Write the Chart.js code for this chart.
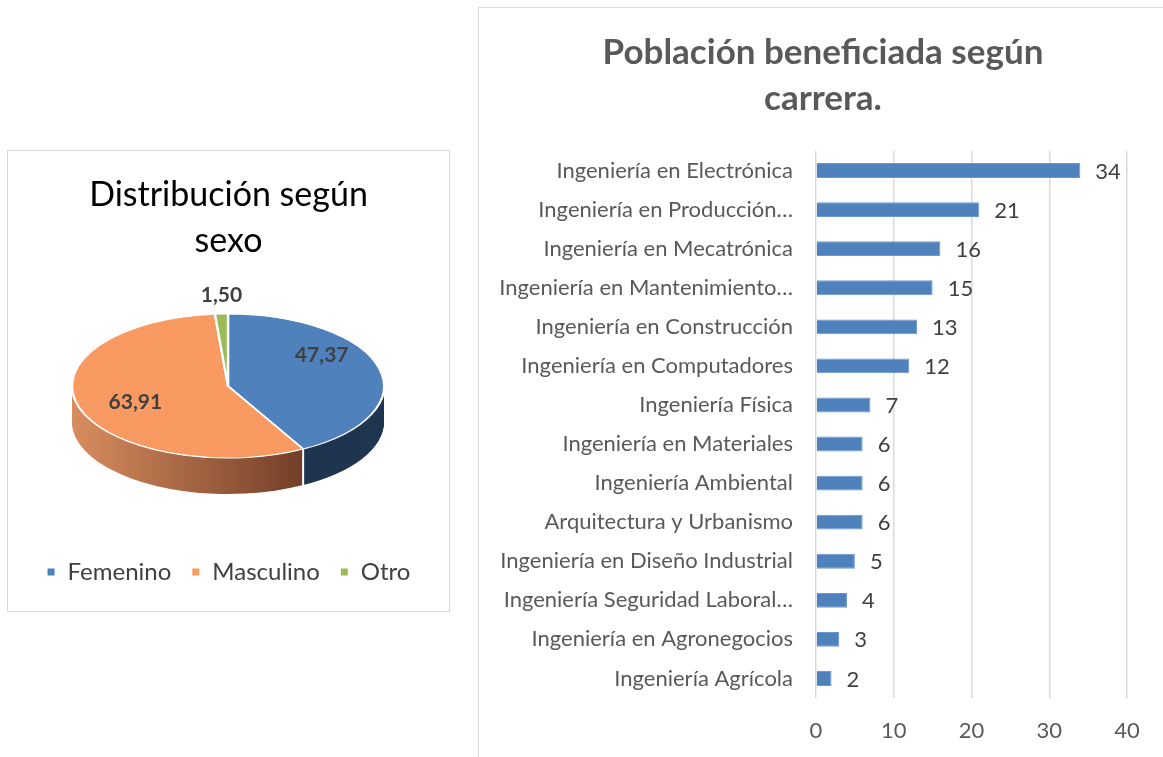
<!DOCTYPE html>
<html>
<head>
<meta charset="utf-8">
<script src="https://cdn.jsdelivr.net/npm/chart.js@4.4.1/dist/chart.umd.min.js"></script>
<style>
  html, body { margin: 0; padding: 0; background: #fff; }
  body { width: 1163px; height: 757px; position: relative; overflow: hidden; }
  #pieBox { position: absolute; left: 7px; top: 150px; width: 441px; height: 460px; border: 1px solid #d9d9d9; }
  #barBox { position: absolute; left: 478px; top: 7px; width: 685px; height: 750px; border-left: 1px solid #d9d9d9; border-top: 1px solid #d9d9d9; }
  canvas { display: block; }
</style>
</head>
<body>
<div id="pieBox"><canvas id="pie" width="441" height="460"></canvas></div>
<div id="barBox"><canvas id="bar" width="684" height="749"></canvas></div>
<script>
// data
const sexLabels = ["Femenino", "Masculino", "Otro"];
const sexValues = [47.37, 63.91, 1.5];

const careerLabels = [
  "Ingeniería en Electrónica",
  "Ingeniería en Producción…",
  "Ingeniería en Mecatrónica",
  "Ingeniería en Mantenimiento…",
  "Ingeniería en Construcción",
  "Ingeniería en Computadores",
  "Ingeniería Física",
  "Ingeniería en Materiales",
  "Ingeniería Ambiental",
  "Arquitectura y Urbanismo",
  "Ingeniería en Diseño Industrial",
  "Ingeniería Seguridad Laboral…",
  "Ingeniería en Agronegocios",
  "Ingeniería Agrícola"
];
const careerValues = [34, 21, 16, 15, 13, 12, 7, 6, 6, 6, 5, 4, 3, 2];

const topColors = ["#4f81bd", "#f89a62", "#9bbb59"];
const FONT = "Lato";

const fmt = (v) => v.toFixed(2).replace(".", ",");

// fake 3d pie: squash the pie into an ellipse and extrude it downwards
const pie3d = {
  id: "pie3d",
  beforeDatasetsDraw(chart, args, opts) {
    const arcs = chart.getDatasetMeta(0).data;
    if (!arcs.length) return;
    const a0 = arcs[0];
    const r = a0.outerRadius;
    const ctx = chart.ctx;
    const sx = opts.rx / r, sy = opts.ry / r;
    const grad = ctx.createLinearGradient(a0.x - r, 0, a0.x + r * 0.6, 0);
    grad.addColorStop(0, "#d98d5f");
    grad.addColorStop(1, "#6a3823");
    const sides = ["#1f3550", grad, "#5d7035"];
    for (let d = opts.depth; d > 0; d--) {
      ctx.save();
      ctx.translate(opts.cx, opts.cy + d);
      ctx.scale(sx, sy);
      ctx.translate(-a0.x, -a0.y);
      arcs.forEach((arc, i) => {
        ctx.beginPath();
        ctx.moveTo(arc.x, arc.y);
        ctx.arc(arc.x, arc.y, r, arc.startAngle, arc.endAngle);
        ctx.closePath();
        ctx.fillStyle = sides[i];
        ctx.fill();
      });
      ctx.restore();
    }
    // white seams where slices meet on the front side
    ctx.save();
    ctx.strokeStyle = "#ffffff";
    ctx.lineWidth = 2;
    arcs.forEach((arc) => {
      const s = Math.sin(arc.startAngle);
      if (s > 0.05) {
        const x = opts.cx + opts.rx * Math.cos(arc.startAngle);
        const y = opts.cy + opts.ry * s;
        ctx.beginPath();
        ctx.moveTo(x, y);
        ctx.lineTo(x, y + opts.depth);
        ctx.stroke();
      }
    });
    ctx.restore();
    ctx.save();
    ctx.translate(opts.cx, opts.cy);
    ctx.scale(sx, sy);
    ctx.translate(-a0.x, -a0.y);
  },
  afterDatasetsDraw(chart, args, opts) {
    const ctx = chart.ctx;
    ctx.restore();
    const arcs = chart.getDatasetMeta(0).data;
    const total = sexValues.reduce((a, b) => a + b, 0);
    ctx.save();
    ctx.font = "bold 21px " + FONT;
    ctx.fillStyle = "#404040";
    ctx.textAlign = "center";
    ctx.textBaseline = "middle";
    arcs.forEach((arc, i) => {
      const mid = (arc.startAngle + arc.endAngle) / 2;
      let x, y;
      if (sexValues[i] / total < 0.05) {
        x = opts.cx + opts.rx * Math.cos(mid);
        y = opts.cy + opts.ry * Math.sin(mid) - 19;
      } else {
        // labels sit a bit higher at the back, lower at the front (perspective)
        x = opts.cx + 0.62 * opts.rx * Math.cos(mid);
        y = opts.cy - 9 + 1.2 * opts.ry * Math.sin(mid);
      }
      ctx.fillText(fmt(sexValues[i]), x, y);
    });
    ctx.restore();
  }
};

new Chart(document.getElementById("pie"), {
  type: "pie",
  data: {
    labels: sexLabels,
    datasets: [{
      data: sexValues,
      backgroundColor: topColors,
      borderColor: "#ffffff",
      borderWidth: 2,
      clip: false
    }]
  },
  plugins: [pie3d],
  options: {
    responsive: false,
    animation: false,
    layout: { padding: { left: 10, right: 10, top: 0, bottom: 17 } },
    plugins: {
      pie3d: { cx: 220, cy: 235, rx: 156, ry: 72, depth: 36 },
      title: {
        display: true,
        text: ["Distribución según", "sexo"],
        color: "#000000",
        font: { family: FONT, size: 34, weight: "normal", lineHeight: 1.36 },
        padding: { top: 21, bottom: 10 }
      },
      legend: {
        position: "bottom",
        labels: {
          boxWidth: 9,
          boxHeight: 9,
          padding: 20,
          color: "#404040",
          font: { family: FONT, size: 24 }
        }
      },
      tooltip: { enabled: false }
    }
  }
});

// value labels at the bar ends
const barValues = {
  id: "barValues",
  afterLayout(chart) {
    // title in the original is centred a little further right
    chart.titleBlock.left += 9;
    chart.titleBlock.right += 9;
  },
  afterDatasetsDraw(chart) {
    const ctx = chart.ctx;
    const bars = chart.getDatasetMeta(0).data;
    ctx.save();
    ctx.font = "22px " + FONT;
    ctx.fillStyle = "#404040";
    ctx.textAlign = "left";
    ctx.textBaseline = "middle";
    bars.forEach((b, i) => ctx.fillText(String(careerValues[i]), b.x + 15, b.y + 1));
    ctx.restore();
  }
};

new Chart(document.getElementById("bar"), {
  type: "bar",
  data: {
    labels: careerLabels,
    datasets: [{
      data: careerValues,
      backgroundColor: "#4f81bd",
      borderColor: "#6b97cc",
      borderWidth: 1,
      barPercentage: 0.38,
      categoryPercentage: 1
    }]
  },
  plugins: [barValues],
  options: {
    indexAxis: "y",
    responsive: false,
    animation: false,
    layout: { padding: { left: 22, right: 36, top: 0, bottom: 0 } },
    plugins: {
      legend: { display: false },
      tooltip: { enabled: false },
      title: {
        display: true,
        text: ["Población beneficiada según", "carrera."],
        color: "#595959",
        font: { family: FONT, size: 35, weight: "bold", lineHeight: 1.3 },
        padding: { top: 22, bottom: 30 }
      }
    },
    scales: {
      x: {
        min: 0,
        max: 40,
        ticks: { stepSize: 10, padding: 20, color: "#595959", font: { family: FONT, size: 22 } },
        grid: { color: "#d9d9d9", lineWidth: 1.5, drawTicks: false },
        border: { display: false },
        afterFit(s) { s.height = 59; }
      },
      y: {
        ticks: { padding: 23, autoSkip: false, color: "#595959", font: { family: FONT, size: 22 } },
        grid: { display: false, drawTicks: false },
        border: { display: false },
        afterFit(s) { s.width = 315; }
      }
    }
  }
});
</script>
</body>
</html>
